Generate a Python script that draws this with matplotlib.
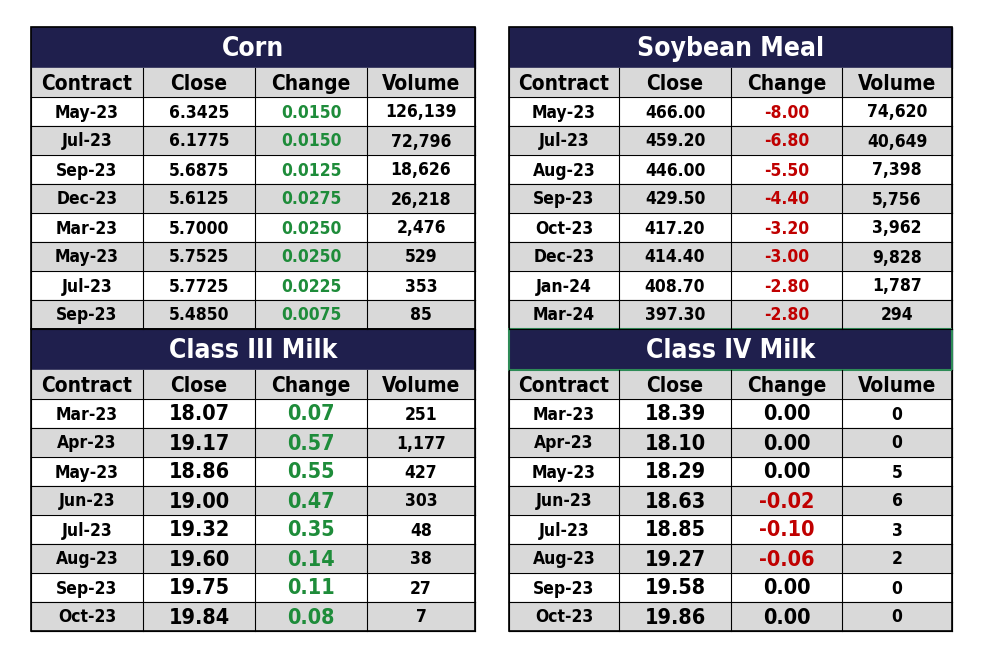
import matplotlib.pyplot as plt
from matplotlib.patches import Rectangle

tables = {
    "Corn": [
        ("May-23", "6.3425", "0.0150", "126,139"),
        ("Jul-23", "6.1775", "0.0150", "72,796"),
        ("Sep-23", "5.6875", "0.0125", "18,626"),
        ("Dec-23", "5.6125", "0.0275", "26,218"),
        ("Mar-23", "5.7000", "0.0250", "2,476"),
        ("May-23", "5.7525", "0.0250", "529"),
        ("Jul-23", "5.7725", "0.0225", "353"),
        ("Sep-23", "5.4850", "0.0075", "85"),
    ],
    "Soybean Meal": [
        ("May-23", "466.00", "-8.00", "74,620"),
        ("Jul-23", "459.20", "-6.80", "40,649"),
        ("Aug-23", "446.00", "-5.50", "7,398"),
        ("Sep-23", "429.50", "-4.40", "5,756"),
        ("Oct-23", "417.20", "-3.20", "3,962"),
        ("Dec-23", "414.40", "-3.00", "9,828"),
        ("Jan-24", "408.70", "-2.80", "1,787"),
        ("Mar-24", "397.30", "-2.80", "294"),
    ],
    "Class III Milk": [
        ("Mar-23", "18.07", "0.07", "251"),
        ("Apr-23", "19.17", "0.57", "1,177"),
        ("May-23", "18.86", "0.55", "427"),
        ("Jun-23", "19.00", "0.47", "303"),
        ("Jul-23", "19.32", "0.35", "48"),
        ("Aug-23", "19.60", "0.14", "38"),
        ("Sep-23", "19.75", "0.11", "27"),
        ("Oct-23", "19.84", "0.08", "7"),
    ],
    "Class IV Milk": [
        ("Mar-23", "18.39", "0.00", "0"),
        ("Apr-23", "18.10", "0.00", "0"),
        ("May-23", "18.29", "0.00", "5"),
        ("Jun-23", "18.63", "-0.02", "6"),
        ("Jul-23", "18.85", "-0.10", "3"),
        ("Aug-23", "19.27", "-0.06", "2"),
        ("Sep-23", "19.58", "0.00", "0"),
        ("Oct-23", "19.86", "0.00", "0"),
    ],
}
# table name -> (left x, top y, column edges, big milk numbers)
placement = {
    "Corn": (31, 27, [31, 143, 255, 367, 475], False),
    "Soybean Meal": (509, 27, [509, 619, 731, 842, 952], False),
    "Class III Milk": (31, 329, [31, 143, 255, 367, 475], True),
    "Class IV Milk": (509, 329, [509, 619, 731, 842, 952], True),
}
headers = ["Contract", "Close", "Change", "Volume"]
navy = "#1f1f4d"
gray = "#d9d9d9"
green = "#1e8c3a"
red = "#c00000"
title_h, row_h = 41, 29
fnt = dict(family="DejaVu Sans", stretch="condensed", fontweight="bold")

fig = plt.figure(figsize=(9.84, 6.6), dpi=100)
ax = fig.add_axes([0, 0, 1, 1])
ax.set_xlim(0, 984)
ax.set_ylim(660, 0)
ax.axis("off")

for name, rows in tables.items():
    x0, y0, cols, big = placement[name]
    w = cols[-1] - x0
    ax.add_patch(Rectangle((x0, y0), w, title_h, color=navy))
    ax.text(x0 + w / 2, y0 + title_h / 2 + 1, name, color="white", fontsize=19,
            ha="center", va="center", **fnt)
    y = y0 + title_h
    all_rows = [headers] + rows
    for i, r in enumerate(all_rows):
        bg = gray if i % 2 == 0 else "white"
        ax.add_patch(Rectangle((x0, y), w, row_h, color=bg))
        for j, val in enumerate(r):
            cx = (cols[j] + cols[j + 1]) / 2
            color = "black"
            size = 15 if i == 0 else 12.5
            if i > 0 and j == 2:
                if val.startswith("-"):
                    color = red
                elif name in ("Corn", "Class III Milk"):
                    color = green
            if i > 0 and big and j in (1, 2):
                size = 15.5
            ax.text(cx, y + row_h / 2 + 1, val, color=color, fontsize=size,
                    ha="center", va="center", **fnt)
        for c in cols:
            ax.plot([c, c], [y, y + row_h], color="black", lw=0.8)
        ax.plot([x0, x0 + w], [y + row_h, y + row_h], color="black", lw=0.8)
        y += row_h
    ax.add_patch(Rectangle((x0, y0), w, y - y0, fill=False, ec="black", lw=1.2))

ax.add_patch(Rectangle((509, 329), 443, title_h, fill=False, ec="#2e8b57", lw=1.5))
fig.savefig("out.png", dpi=100)
